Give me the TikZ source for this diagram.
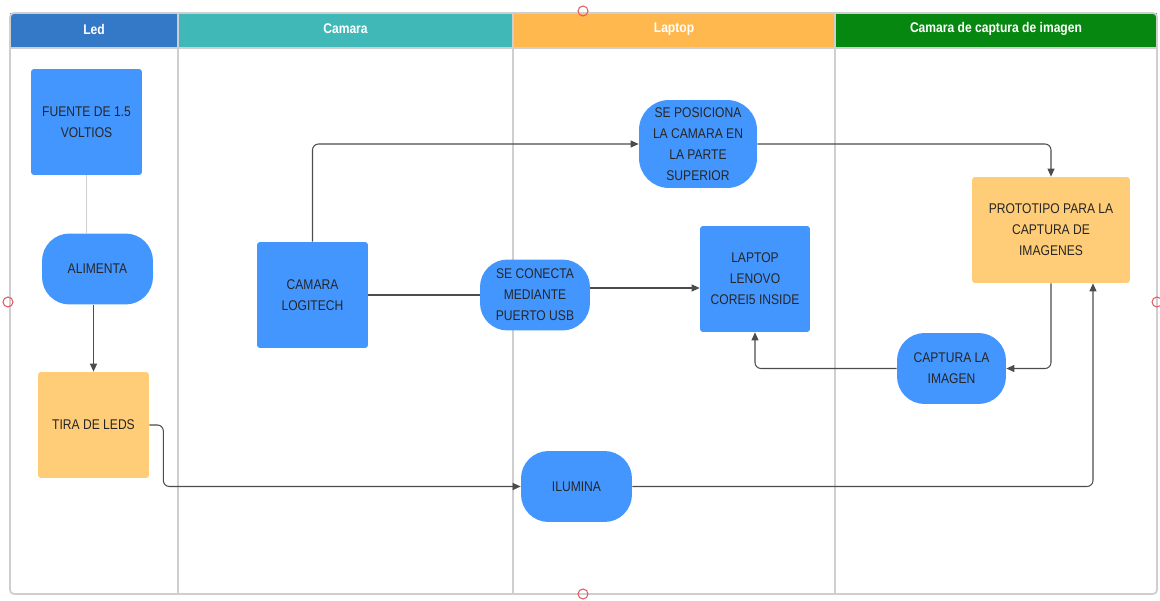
\documentclass[tikz,border=0pt]{standalone}
\usepackage{fontspec}
\setmainfont[FakeStretch=0.86]{Liberation Sans}
\usetikzlibrary{arrows.meta}

\definecolor{ledlane}{HTML}{3478C8}
\definecolor{camlane}{HTML}{40B8B8}
\definecolor{laplane}{HTML}{FFB84D}
\definecolor{caplane}{HTML}{06870F}
\definecolor{stepblue}{HTML}{4496FF}
\definecolor{steporange}{HTML}{FFCC77}
\definecolor{lanegray}{HTML}{CFCFCF}
\definecolor{handlered}{HTML}{E25A66}

\tikzset{
  lanehead/.style={text=white, font=\fontsize{8}{10}\selectfont\bfseries},
  boxstep/.style={rectangle, rounded corners=0.06cm, fill=stepblue, align=center,
    minimum width=2.22cm, minimum height=2.12cm, inner sep=1pt,
    font=\fontsize{8}{12}\selectfont, text=black!85},
  orangestep/.style={boxstep, fill=steporange},
  roundstep/.style={boxstep, rounded corners=0.55cm, minimum height=1.42cm},
  flow/.style={draw=black!70, line width=0.6pt, rounded corners=0.12cm,
    -{Triangle[length=0.16cm,width=0.14cm]}},
  plain/.style={draw=black!70, line width=0.6pt, rounded corners=0.12cm},
  handle/.style={draw=handlered, line width=0.6pt}
}

\begin{document}
\begin{tikzpicture}[x=0.02cm,y=-0.02cm]
  \useasboundingbox (0,0) rectangle (1160,601);

  % lane headers
  \fill[ledlane] (10,13) rectangle (178,48);
  \fill[camlane] (178,13) rectangle (513,48);
  \fill[laplane] (513,13) rectangle (835,48);
  \fill[caplane] (835,13) rectangle (1157,48);
  \node[lanehead] (hled) at (94,29) {Led};
  \node[lanehead] (hcam) at (345.5,29) {Camara};
  \node[lanehead] (hlap) at (674,29) {Laptop};
  \node[lanehead] (hcap) at (996,29) {Camara de captura de imagen};

  % lane boundaries
  \draw[lanegray, line width=1pt, rounded corners=0.08cm] (10,13) rectangle (1157,594);
  \draw[lanegray, line width=0.8pt] (10,48) -- (1157,48);
  \draw[lanegray, line width=0.8pt] (178,13) -- (178,594);
  \draw[lanegray, line width=0.8pt] (513,13) -- (513,594);
  \draw[lanegray, line width=0.8pt] (835,13) -- (835,594);

  % steps
  \node[boxstep] (fuente) at (86.5,122) {FUENTE DE 1.5\\VOLTIOS};
  \node[roundstep] (alimenta) at (97.5,269) {ALIMENTA};
  \node[orangestep] (tira) at (93.5,425) {TIRA DE LEDS};
  \node[boxstep] (logitech) at (312.5,295) {CAMARA\\LOGITECH};
  \node[roundstep, minimum width=2.2cm] (conecta) at (535,295) {SE CONECTA\\MEDIANTE\\PUERTO USB};
  \node[roundstep, minimum width=2.36cm, minimum height=1.76cm, rounded corners=0.6cm]
    (posiciona) at (698,144) {SE POSICIONA\\LA CAMARA EN\\LA PARTE\\SUPERIOR};
  \node[boxstep, minimum width=2.2cm] (lenovo) at (755,279) {LAPTOP\\LENOVO\\COREI5 INSIDE};
  \node[orangestep, minimum width=3.16cm] (prototipo) at (1051,230) {PROTOTIPO PARA LA\\CAPTURA DE\\IMAGENES};
  \node[roundstep, minimum width=2.18cm] (captura) at (951.5,368.5) {CAPTURA LA\\IMAGEN};
  \node[roundstep] (ilumina) at (576.5,486.5) {ILUMINA};

  % connectors
  \draw[lanegray, line width=0.8pt] (fuente.south) -- (fuente.south |- alimenta.north);
  \draw[flow] (tira.north |- alimenta.south) -- (tira.north);
  \draw[flow] (logitech.north) |- (posiciona.west);
  \draw[plain] (logitech.east) -- (logitech.east -| conecta.west);
  \coordinate (usb) at ([yshift=0.14cm]conecta.east);
  \draw[flow] (usb) -- (usb -| lenovo.west);
  \draw[flow] (posiciona.east) -| (prototipo.north);
  \draw[flow] (prototipo.south) |- (captura.east);
  \draw[flow] (captura.west) -| (lenovo.south);
  \draw[flow] (tira.east) -- ++(14,0) |- (ilumina.west);
  \coordinate (luz) at ([xshift=0.84cm]prototipo.south);
  \draw[flow] (ilumina.east) -| (luz);

  % selection handles
  \draw[handle] (583,11) circle[radius=0.1cm];
  \draw[handle] (8,302) circle[radius=0.1cm];
  \draw[handle] (1157,302) circle[radius=0.1cm];
  \draw[handle] (583,594) circle[radius=0.1cm];
\end{tikzpicture}
\end{document}
